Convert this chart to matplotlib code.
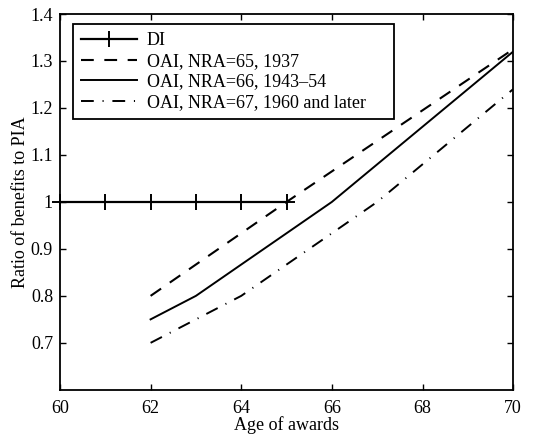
import matplotlib
matplotlib.use("Agg")
import matplotlib.pyplot as plt

# ages and benefit/PIA ratios
di_age = [60, 61, 62, 63, 64, 65]
di_ratio = [1, 1, 1, 1, 1, 1]

oai_age = [62, 63, 64, 65, 66, 67, 68, 69, 70]
nra65 = [0.80, 0.8667, 0.9333, 1.0, 1.065, 1.13, 1.195, 1.26, 1.325]
nra66 = [0.75, 0.80, 0.8667, 0.9333, 1.0, 1.08, 1.16, 1.24, 1.32]
nra67 = [0.70, 0.75, 0.80, 0.8667, 0.9333, 1.0, 1.08, 1.16, 1.24]

labels = ["DI", "OAI, NRA=65, 1937", "OAI, NRA=66, 1943\u201354",
          "OAI, NRA=67, 1960 and later"]

plt.rcParams["font.family"] = ["Liberation Serif", "DejaVu Serif"]
plt.rcParams["font.size"] = 13
plt.rcParams["lines.scale_dashes"] = False  # dash lengths in plain points

fig = plt.figure(figsize=(5.5, 4.38), dpi=100)
ax = fig.add_axes([0.109, 0.11, 0.824, 0.858])

ax.plot(di_age, di_ratio, "k-", marker="+", ms=11, mew=1.4, lw=1.6,
        clip_on=False, label=labels[0])
ax.plot(oai_age, nra65, "k--", lw=1.5, dashes=(9.2, 7.6), label=labels[1])
ax.plot(oai_age, nra66, "k-", lw=1.4, label=labels[2])
ax.plot(oai_age, nra67, "k-.", lw=1.4, dashes=(9.2, 6.3, 0.8, 6.3), label=labels[3])

ax.set_xlim(60, 70)
ax.set_ylim(0.6, 1.4)
ax.set_xticks([60, 62, 64, 66, 68, 70])
ax.set_yticks([0.7, 0.8, 0.9, 1.0, 1.1, 1.2, 1.3, 1.4])
ax.set_yticklabels(["0.7", "0.8", "0.9", "1", "1.1", "1.2", "1.3", "1.4"])
ax.tick_params(direction="in", length=4, width=1, top=True, right=True, pad=5)
ax.tick_params(axis="x", pad=7)
for s in ax.spines.values():
    s.set_linewidth(1.3)

ax.set_xlabel("Age of awards", labelpad=0)
ax.set_ylabel("Ratio of benefits to PIA", labelpad=1)

# MATLAB-style legend box with slack on the right
leg = ax.legend(loc="upper left", bbox_to_anchor=(0.0287, 0.973, 0.708, 0.0),
                mode="expand", fancybox=False, edgecolor="k", framealpha=1,
                borderpad=0.45, labelspacing=0.2, handlelength=3.1,
                handletextpad=0.55, borderaxespad=0)
leg.get_frame().set_linewidth(1.3)

fig.savefig("out.png", dpi=100)
